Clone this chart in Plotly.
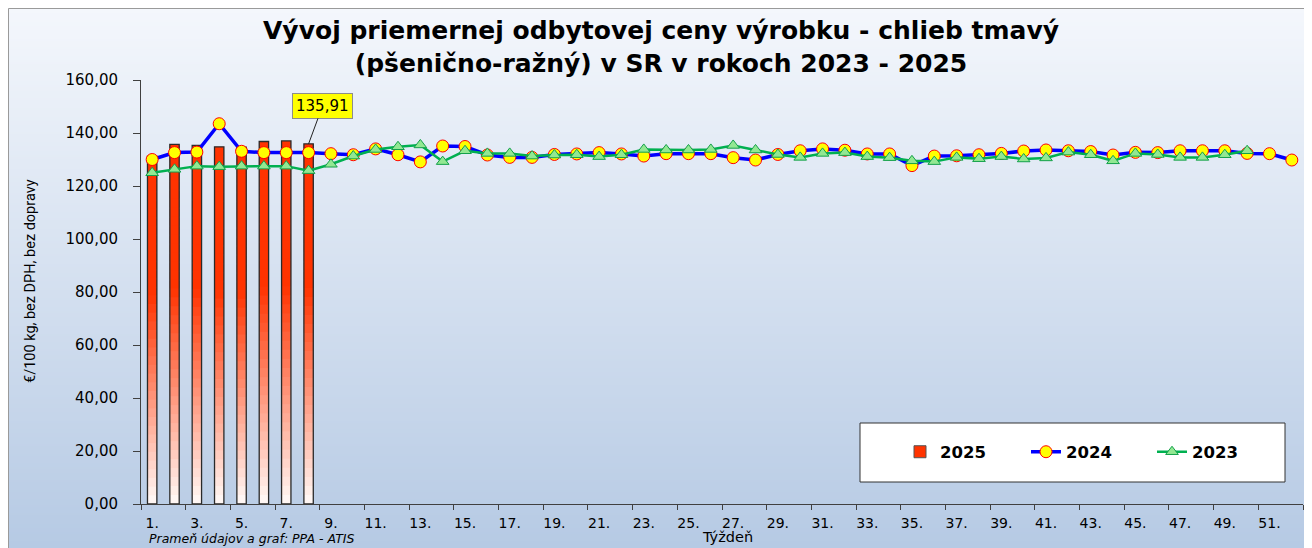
import base64
import struct
import zlib

import plotly.graph_objects as go

# ---------------- data ----------------
weeks = list(range(1, 53))
tick_weeks = list(range(1, 52, 2))
tick_labels = [f"{w}." for w in tick_weeks]

weeks_2025 = [1, 2, 3, 4, 5, 6, 7, 8]
values_2025 = [131.3, 135.7, 135.3, 134.8, 134.7, 136.8, 137.0, 135.91]

values_2024 = [130.0, 132.6, 132.8, 143.5, 133.1, 132.6, 132.6, 132.6, 132.2, 131.8,
               134.0, 131.8, 129.1, 135.1, 134.9, 131.7, 130.8, 130.8, 131.9, 132.1,
               132.6, 132.1, 131.3, 132.2, 132.2, 132.2, 130.7, 129.8, 131.9, 133.3,
               134.0, 133.5, 132.1, 132.1, 127.7, 131.3, 131.4, 131.8, 132.3, 133.2,
               133.6, 133.3, 133.0, 131.7, 132.7, 132.6, 133.3, 133.3, 133.3, 132.3,
               132.2, 129.8]

values_2023 = [125.0, 126.3, 127.5, 127.3, 127.5, 127.5, 127.5, 125.8, 128.2, 131.3,
               133.8, 134.8, 135.5, 129.2, 133.3, 132.3, 132.3, 131.3, 131.7, 131.8,
               131.1, 131.8, 133.8, 133.6, 133.6, 133.8, 135.3, 133.6, 131.9, 130.8,
               132.3, 132.6, 131.1, 130.7, 129.5, 129.2, 130.8, 130.3, 131.1, 130.2,
               130.6, 132.8, 131.8, 129.5, 132.3, 131.9, 130.8, 130.8, 131.8, 133.3,
               None, None]

label_week = 8
label_value = 135.91

series_names = ["2025", "2024", "2023"]


# ---------------- helpers ----------------
def gradient_png(top, bottom, h=256):
    raw = b""
    for i in range(h):
        t = i / (h - 1)
        c = bytes(round(top[k] + (bottom[k] - top[k]) * t) for k in range(3))
        raw += b"\x00" + c + c
    def chunk(tag, data):
        return (struct.pack(">I", len(data)) + tag + data
                + struct.pack(">I", zlib.crc32(tag + data) & 0xFFFFFFFF))
    png = (b"\x89PNG\r\n\x1a\n"
           + chunk(b"IHDR", struct.pack(">IIBBBBB", 2, h, 8, 2, 0, 0, 0))
           + chunk(b"IDAT", zlib.compress(raw))
           + chunk(b"IEND", b""))
    return "data:image/png;base64," + base64.b64encode(png).decode()


def bar_colour(t):
    # t: fraction of bar height (0 bottom, 1 top); white -> red
    red = (255, 51, 0)
    white = (255, 250, 248)
    s = min(1.0, t / 0.6)
    c = [round(white[k] + (red[k] - white[k]) * s) for k in range(3)]
    return f"rgb({c[0]},{c[1]},{c[2]})"


# ---------------- geometry (px) ----------------
OFF = 8                      # page body margin
W, H = 1304, 540
L, R, T, B = 133, 9, 72, 44
PW, PH = W - L - R, H - T - B


def px_x(page_x):
    return (page_x - OFF - L) / PW


def px_y(page_y):
    return (H - B - (page_y - OFF)) / PH


fig = go.Figure()

# gradient bars (segments via base, slightly overlapping to avoid seams)
N = 40
seg_x, seg_base, seg_h, seg_col = [], [], [], []
for wk, v in zip(weeks_2025, values_2025):
    for i in range(N):
        base = v * i / N
        seg_x.append(wk)
        seg_base.append(base)
        seg_h.append(min(v / N * 1.8, v - base))
        seg_col.append(bar_colour((i + 0.5) / N))
fig.add_trace(go.Bar(x=seg_x, y=seg_h, base=seg_base, width=0.42,
                     marker=dict(color=seg_col, line=dict(width=0)),
                     showlegend=False, hoverinfo="skip"))
fig.add_trace(go.Bar(x=weeks_2025, y=values_2025, width=0.42,
                     marker=dict(color="rgba(0,0,0,0)",
                                 line=dict(color="#2a2a2a", width=1.3)),
                     showlegend=False))
fig.add_trace(go.Bar(x=[None], y=[None], name=series_names[0],
                     marker=dict(color="#ff3300", line=dict(color="#555", width=1))))

fig.add_trace(go.Scatter(x=weeks, y=values_2024, name=series_names[1], mode="lines+markers",
                         line=dict(color="#0000ff", width=3.5),
                         marker=dict(symbol="circle", size=12, color="#ffff00",
                                     line=dict(color="#ff0000", width=1))))
fig.add_trace(go.Scatter(x=weeks, y=values_2023, name=series_names[2], mode="lines+markers",
                         line=dict(color="#00b050", width=2.5),
                         marker=dict(symbol="triangle-up", size=11, color="#92e892",
                                     line=dict(color="#13a04a", width=1))))

# background gradient & frame
fig.add_layout_image(dict(source=gradient_png((244, 247, 252), (182, 202, 228)),
                          xref="paper", yref="paper",
                          x=px_x(OFF), y=px_y(OFF), sizex=W / PW, sizey=H / PH,
                          xanchor="left", yanchor="top", sizing="stretch", layer="below"))
fig.add_shape(type="rect", xref="paper", yref="paper",
              x0=px_x(OFF + 0.5), x1=px_x(1340), y0=px_y(570), y1=px_y(OFF + 0.5),
              line=dict(color="#9a9a9a", width=1), fillcolor="rgba(0,0,0,0)", layer="below")

# legend box
fig.add_shape(type="rect", xref="paper", yref="paper",
              x0=px_x(860), x1=px_x(1285), y0=px_y(482), y1=px_y(423),
              line=dict(color="#333", width=1), fillcolor="white", layer="below")

# label for last 2025 value
fig.add_annotation(x=label_week, y=label_value, text=f"{label_value:.2f}".replace(".", ","),
                   showarrow=True, arrowhead=0, arrowwidth=1, arrowcolor="#222",
                   ax=14, ay=-38, bgcolor="#ffff00", bordercolor="#8c8c8c", borderwidth=1,
                   borderpad=3, font=dict(family="DejaVu Sans", size=15, color="black"))

# source & axis title texts
fig.add_annotation(xref="paper", yref="paper", x=px_x(147), y=px_y(538),
                   xanchor="left", yanchor="middle", showarrow=False,
                   text="<i>Prameň údajov a graf: PPA - ATIS</i>",
                   font=dict(family="DejaVu Sans", size=12.5, color="black"))
fig.add_annotation(xref="paper", yref="paper", x=px_x(727), y=px_y(537),
                   xanchor="center", yanchor="middle", showarrow=False,
                   text="Týždeň", font=dict(family="DejaVu Sans", size=14.5, color="black"))
fig.add_annotation(xref="paper", yref="paper", x=px_x(30), y=px_y(281),
                   xanchor="center", yanchor="middle", showarrow=False, textangle=-90,
                   text="€/100 kg, bez DPH, bez dopravy",
                   font=dict(family="Roboto", size=14.5, color="black"))

fig.update_layout(
    width=W, height=H,
    margin=dict(l=L, r=R, t=T, b=B),
    paper_bgcolor="white",
    plot_bgcolor="rgba(0,0,0,0)",
    separators=", ",
    barmode="overlay",
    title=dict(text="<b>Vývoj priemernej odbytovej ceny výrobku - chlieb tmavý<br>"
                    "(pšenično-ražný) v SR v rokoch 2023 - 2025</b>",
               x=(661 - OFF) / W, xanchor="center", xref="container",
               y=1 - (39 - OFF) / H, yanchor="top", yref="container",
               font=dict(family="DejaVu Sans", size=25, color="black")),
    xaxis=dict(range=[0.5, 52.5], tickmode="array", tickvals=tick_weeks, ticktext=tick_labels,
               ticks="outside", ticklen=6, tickcolor="rgba(0,0,0,0)",
               showline=True, linecolor="#404040", linewidth=1, showgrid=False, zeroline=False,
               tickfont=dict(family="DejaVu Sans", size=14, color="black"),
               minor=dict(tickmode="linear", tick0=0.5, dtick=2, ticks="outside",
                          ticklen=5, tickcolor="#404040", showgrid=False)),
    yaxis=dict(range=[0, 160], dtick=20, tickformat=".2f",
               ticks="outside", ticklen=7, tickcolor="#404040",
               showline=True, linecolor="#404040", linewidth=1, showgrid=False, zeroline=False,
               ticklabelstandoff=12,
               tickfont=dict(family="DejaVu Sans", size=15, color="black")),
    showlegend=True,
    legend=dict(orientation="h", x=px_x(900), y=px_y(452), xanchor="left", yanchor="middle",
                bgcolor="rgba(0,0,0,0)", borderwidth=0, entrywidth=81,
                font=dict(family="DejaVu Sans", size=16.5, color="black", weight="bold"),
                traceorder="normal"),
)

fig.write_html("out.html")
